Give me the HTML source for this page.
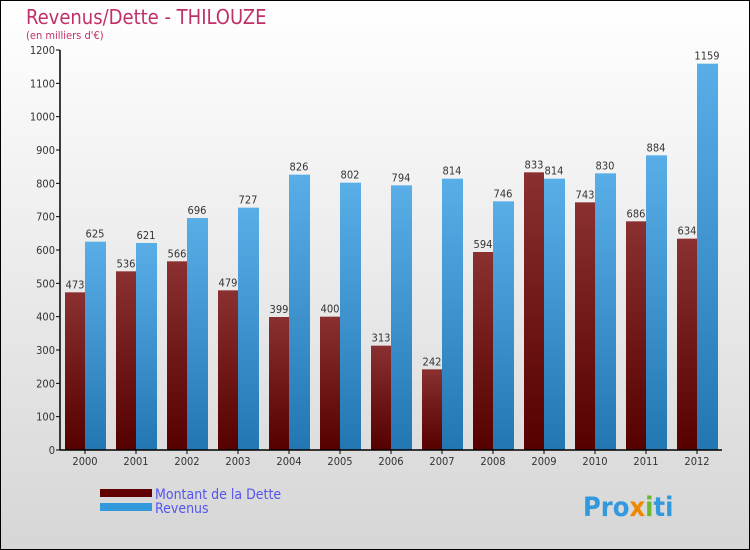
<!DOCTYPE html>
<html><head><meta charset="utf-8"><style>
body{margin:0}
#c{width:750px;height:550px;box-sizing:border-box;border:1px solid #000;background:linear-gradient(#fff,#d6d6d6);position:relative;font-family:"DejaVu Sans Condensed","Liberation Sans",sans-serif}
</style></head><body>
<div id="c">
<svg width="748" height="548" style="position:absolute;left:-1px;top:-1px" id="svg">
<defs>
<linearGradient id="gd" x1="0" y1="0" x2="0" y2="1"><stop offset="0" stop-color="#8a3030"/><stop offset="1" stop-color="#560000"/></linearGradient>
<linearGradient id="gr" x1="0" y1="0" x2="0" y2="1"><stop offset="0" stop-color="#5aaee8"/><stop offset="1" stop-color="#2277b3"/></linearGradient>
</defs>
<text x="26" y="24" font-size="20" fill="#c0306a">Revenus/Dette - THILOUZE</text>
<text x="26" y="39" font-size="11" fill="#c0306a">(en milliers d'€)</text>
<g id="plot"></g>
<rect x="100" y="489" width="52" height="8" fill="#600000"/>
<rect x="100" y="503" width="52" height="8" fill="#3399dd"/>
<text x="155" y="499" font-size="14" fill="#5555ee">Montant de la Dette</text>
<text x="155" y="513" font-size="14" fill="#5555ee">Revenus</text>
<text x="583" y="516" font-size="27" font-weight="bold" fill="#3399dd">Pro<tspan fill="#ee8800">x</tspan><tspan fill="#66bb33">i</tspan>ti</text>
</svg>
</div>
<script>
const years=["2000","2001","2002","2003","2004","2005","2006","2007","2008","2009","2010","2011","2012"];
const dette=[473,536,566,479,399,400,313,242,594,833,743,686,634];
const revenus=[625,621,696,727,826,802,794,814,746,814,830,884,1159];
const yTicks=[0,100,200,300,400,500,600,700,800,900,1000,1100,1200];
const NS="http://www.w3.org/2000/svg";
const g=document.getElementById('plot');
const y=v=>450-v*400/1200;
const x=i=>85+i*51;
function mk(t,a){const e=document.createElementNS(NS,t);for(const k in a)e.setAttribute(k,a[k]);g.appendChild(e);return e;}
yTicks.forEach(v=>{
 const l=mk('line',{x1:56,x2:60,y1:y(v),y2:y(v),stroke:'#000'});
 
 
 const t=mk('text',{x:55,y:y(v)+4,'text-anchor':'end','font-size':11,fill:'#333'});t.textContent=v;
 
 
});
years.forEach((yr,i)=>{
 const b1=mk('rect',{x:x(i)-20,y:y(dette[i]),width:20,height:450-y(dette[i]),fill:'url(#gd)'});
 
 
 const b2=mk('rect',{x:x(i),y:y(revenus[i]),width:21,height:450-y(revenus[i]),fill:'url(#gr)'});
 
 
 const t1=mk('text',{x:x(i)-10,y:y(dette[i])-4,'text-anchor':'middle','font-size':11,fill:'#333'});t1.textContent=dette[i];
 
 
 const t2=mk('text',{x:x(i)+10,y:y(revenus[i])-4,'text-anchor':'middle','font-size':11,fill:'#333'});t2.textContent=revenus[i];
 
 
 const tk=mk('line',{x1:x(i),x2:x(i),y1:450,y2:454,stroke:'#000'});
 
 
 const xl=mk('text',{x:x(i),y:465,'text-anchor':'middle','font-size':11,fill:'#333'});xl.textContent=yr;
 
 
});
const ya=mk('line',{x1:60,x2:60,y1:50,y2:450,stroke:'#000','stroke-width':1.5});


const xa=mk('line',{x1:60,x2:722,y1:450,y2:450,stroke:'#000','stroke-width':1.5});


</script>
</body></html>
